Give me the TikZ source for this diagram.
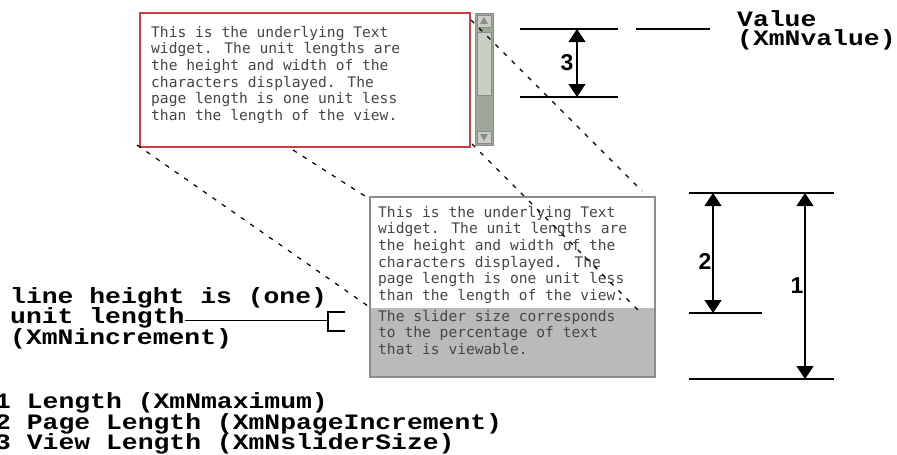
\documentclass[tikz,border=0pt]{standalone}
\usepackage{fontspec}
\setmonofont{Liberation Mono}
\setsansfont{Liberation Sans}
\newfontfamily\screenfont{DejaVu Sans Mono}
\usepackage{xcolor}
\usetikzlibrary{arrows.meta,positioning,calc}

\definecolor{widgetred}{RGB}{200,62,66}
\definecolor{troughgray}{RGB}{160,166,152}
\definecolor{thumbgray}{RGB}{202,207,195}
\definecolor{pagegray}{RGB}{186,186,186}
\definecolor{framegray}{RGB}{140,140,140}
\definecolor{screentext}{RGB}{70,70,70}

% wide typewriter lettering for the callouts
\newcommand{\widetype}[1]{\scalebox{1.2}[1]{#1}}

\begin{document}
\begin{tikzpicture}[x=1pt,y=-1pt,
  callout/.style={font=\ttfamily\bfseries\fontsize{22}{20}\selectfont, inner sep=0pt, anchor=base west},
  screen/.style={font=\screenfont\fontsize{14.6}{16.6}\selectfont, text=screentext, align=left, inner sep=0pt, anchor=north west},
  dimline/.style={line width=1.4pt},
  dimarrow/.style={line width=1.3pt, {Triangle[length=13pt,width=17pt]}-{Triangle[length=13pt,width=17pt]}},
  proj/.style={line width=1.2pt, dash pattern=on 4.5pt off 7pt},
  num/.style={font=\sffamily\bfseries\fontsize{23}{23}\selectfont, inner sep=1pt}]
  \useasboundingbox (0,0) rectangle (897,455);
  \clip (0,0) rectangle (897,455);

  % Upper text widget with its scroll bar
  \draw[widgetred, line width=2.6pt, fill=white] (140,13) rectangle (470,147);
  \node[screen] (uppertext) at (151,26) {This is the underlying Text\\widget. The unit lengths are\\the height and width of the\\characters displayed. The\\page length is one unit less\\than the length of the view.};
  \draw[framegray, fill=troughgray] (475,13) rectangle (493,145);
  \draw[framegray, fill=thumbgray] (477,32) rectangle (491,95);
  \draw[framegray, fill=thumbgray] (477,15) rectangle (491,27);
  \draw[framegray, fill=thumbgray] (477,131) rectangle (491,143);
  \fill[framegray] (480,24) -- (484,17) -- (488,24) -- cycle;
  \fill[framegray] (480,134) -- (484,141) -- (488,134) -- cycle;

  % Lower widget: visible page and slider part
  \fill[white] (370,197) rectangle (655,308);
  \fill[pagegray] (370,308) rectangle (655,377);
  \draw[framegray, line width=1.8pt] (370,197) rectangle (655,377);
  \node[screen] (pagetext) at (378,206) {This is the underlying Text\\widget. The unit lengths are\\the height and width of the\\characters displayed. The\\page length is one unit less\\than the length of the view.};
  \node[screen] (slidertext) at (378,310) {The slider size corresponds\\to the percentage of text\\that is viewable.};

  % Projection lines
  \coordinate (ubl) at (137,145);
  \coordinate (ubm) at (293,150);
  \coordinate (ubr) at (472,144);
  \coordinate (utr) at (471,20);
  \coordinate (ltl) at (368,198);
  \coordinate (ltr) at (642,191);
  \coordinate (lml) at (368,306);
  \coordinate (lmr) at (641,313);
  \draw[proj] (ubl) -- (lml);
  \draw[proj] (ubm) -- (ltl);
  \draw[proj] (ubr) -- (lmr);
  \draw[proj] (utr) -- (ltr);

  % View length (3) and value
  \draw[dimline] (520,29) -- (618,29);
  \draw[dimline] (636,29) -- (710,29);
  \draw[dimline] (520,97) -- (618,97);
  \coordinate (v3t) at (577,29);
  \coordinate (v3b) at (577,97);
  \draw[dimarrow] (v3t) -- node[num, left, xshift=-2pt] (n3) {3} (v3b);
  \node[callout] (value) at (737,26) {\widetype{Value}};
  \node[callout] (valuename) at (737,45) {\widetype{(XmNvalue)}};

  % Page length (2) and length (1)
  \draw[dimline] (689,193) -- (834,193);
  \draw[dimline] (689,313) -- (762,313);
  \draw[dimline] (689,379) -- (834,379);
  \coordinate (v2t) at (713,193);
  \coordinate (v2b) at (713,313);
  \coordinate (v1t) at (805,193);
  \coordinate (v1b) at (805,379);
  \draw[dimarrow] (v2t) -- node[num, left, pos=0.57] (n2) {2} (v2b);
  \draw[dimarrow] (v1t) -- node[num, left] (n1) {1} (v1b);

  % Increment callout with bracket
  \node[callout] (lh1) at (10,303) {\widetype{line height is (one)}};
  \node[callout] (lh2) at (10,323) {\widetype{unit length}};
  \node[callout] (lh3) at (10,344) {\widetype{(XmNincrement)}};
  \coordinate (brk) at (328,318);
  \coordinate (brkt) at (345,312);
  \coordinate (brkb) at (345,331);
  \draw[line width=1.2pt] (lh2.mid east) -- (lh2.mid east -| brk);
  \draw[line width=1.2pt] (brkt) -| (brk) |- (brkb);

  % Legend
  \node[callout] (leg1) at (-5,408) {\widetype{1 Length (XmNmaximum)}};
  \node[callout] (leg2) at (-5,429) {\widetype{2 Page Length (XmNpageIncrement)}};
  \node[callout] (leg3) at (-5,449) {\widetype{3 View Length (XmNsliderSize)}};
\end{tikzpicture}
\end{document}
